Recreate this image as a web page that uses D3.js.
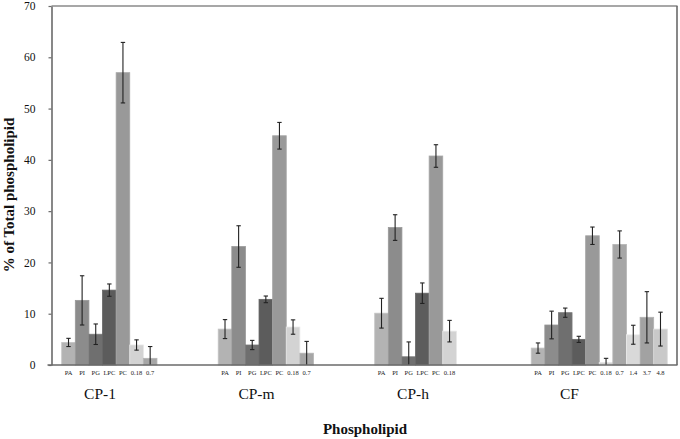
<!DOCTYPE html>
<html><head><meta charset="utf-8">
<script src="https://cdn.jsdelivr.net/npm/d3@7"></script>
<style>
html,body{margin:0;padding:0;background:#fff;}
text{font-family:"Liberation Serif","Times New Roman",serif;}
</style></head>
<body><svg id="c" width="680" height="439"></svg>
<script>
// ---- data ----
const groups = ["CP-1", "CP-m", "CP-h", "CF"];
const slots = [0,1,2,3,4,5,6,7,8,9];
const slotColors = ["#b3b3b3","#8c8c8c","#6f6f6f","#5c5c5c","#999999","#d3d3d3","#a6a6a6","#d9d9d9","#a2a2a2","#c9c9c9"];

const labelsCP1 = ["PA","PI","PG","LPC","PC","0.18","0.7"];
const valuesCP1 = [4.4, 12.6, 6.0, 14.6, 57.0, 3.9, 1.3];
const errorsCP1 = [0.8, 4.8, 2.0, 1.2, 5.9, 1.0, 2.3];

const labelsCPm = ["PA","PI","PG","LPC","PC","0.18","0.7"];
const valuesCPm = [7.0, 23.1, 3.9, 12.8, 44.7, 7.4, 2.3];
const errorsCPm = [1.85, 4.05, 0.9, 0.65, 2.6, 1.4, 2.3];

const labelsCPh = ["PA","PI","PG","LPC","PC","0.18"];
const valuesCPh = [10.1, 26.8, 1.6, 14.0, 40.75, 6.6];
const errorsCPh = [2.9, 2.5, 2.9, 2.0, 2.2, 2.1];

const labelsCF = ["PA","PI","PG","LPC","PC","0.18","0.7","1.4","3.7","4.8"];
const valuesCF = [3.3, 7.8, 10.2, 5.0, 25.2, 0.5, 23.5, 5.9, 9.3, 7.0];
const errorsCF = [1.0, 2.7, 0.9, 0.6, 1.7, 0.8, 2.65, 1.85, 5.0, 3.3];

const yTicks = [0,10,20,30,40,50,60,70];

const groupData = [
  {g:"CP-1", labels:labelsCP1, values:valuesCP1, errors:errorsCP1},
  {g:"CP-m", labels:labelsCPm, values:valuesCPm, errors:errorsCPm},
  {g:"CP-h", labels:labelsCPh, values:valuesCPh, errors:errorsCPh},
  {g:"CF",   labels:labelsCF,  values:valuesCF,  errors:errorsCF}
];

(function(){
// ---- layout ----
const svg = d3.select("#c");
const pL = 51.5, pR = 677.5, pT = 6, pB = 365;
const x0 = d3.scaleBand().domain(groups).range([pL, pR]).paddingInner(0).paddingOuter(0);
const x1 = d3.scaleBand().domain(slots).range([0, x0.bandwidth()]).paddingInner(0).paddingOuter(0.75);
const y = d3.scaleLinear().domain([0,70]).range([pB, pT]);

const bars = [];
groupData.forEach(gd => {
  gd.values.forEach((v,i) => bars.push({g:gd.g, i, v, e:gd.errors[i], label:gd.labels[i]}));
});

// bars
svg.append("g").selectAll("rect").data(bars).join("rect")
  .attr("x", d => x0(d.g) + x1(d.i))
  .attr("width", x1.bandwidth())
  .attr("y", d => y(d.v))
  .attr("height", d => y(0) - y(d.v))
  .attr("fill", d => slotColors[d.i])
  .attr("stroke", d => d3.color(slotColors[d.i]).brighter(0.25))
  .attr("stroke-width", 0.8);

// error bars
const eg = svg.append("g").attr("stroke","#222").attr("stroke-width",1.1);
bars.forEach(d => {
  const cx = x0(d.g) + x1(d.i) + x1.bandwidth()/2;
  const hi = d.v + d.e, lo = Math.max(0, d.v - d.e);
  eg.append("line").attr("x1",cx).attr("x2",cx).attr("y1",y(hi)).attr("y2",y(lo));
  eg.append("line").attr("x1",cx-2.2).attr("x2",cx+2.2).attr("y1",y(hi)).attr("y2",y(hi));
  if (d.v - d.e > 0)
    eg.append("line").attr("x1",cx-2.2).attr("x2",cx+2.2).attr("y1",y(lo)).attr("y2",y(lo));
});

// frame lines
svg.append("line").attr("x1",pL).attr("x2",pR).attr("y1",pT).attr("y2",pT)
  .attr("stroke","#8a8a8a").attr("stroke-width",1.6);
svg.append("line").attr("x1",pR-0.5).attr("x2",pR-0.5).attr("y1",pT).attr("y2",pB)
  .attr("stroke","#6a6a6a").attr("stroke-width",1.6);

// y axis
const yAxis = svg.append("g").attr("transform",`translate(${pL},0)`)
  .call(d3.axisLeft(y).tickValues(yTicks).tickSize(3).tickSizeOuter(0).tickPadding(13));
yAxis.select(".domain").attr("stroke","#6a6a6a").attr("stroke-width",1.6);
yAxis.selectAll(".tick line").attr("stroke","#6a6a6a").attr("stroke-width",1.2);
yAxis.selectAll(".tick text").attr("font-family","Liberation Serif").attr("font-size",11.5).attr("fill","#111");

// x baseline
svg.append("line").attr("x1",pL-4).attr("x2",pR).attr("y1",pB).attr("y2",pB)
  .attr("stroke","#6a6a6a").attr("stroke-width",1.6);

// slot labels
svg.append("g").selectAll("text").data(bars).join("text")
  .attr("x", d => x0(d.g) + x1(d.i) + x1.bandwidth()/2)
  .attr("y", 375)
  .attr("text-anchor","middle")
  .attr("font-size",6.5)
  .attr("fill","#222")
  .text(d => d.label);

// group labels
svg.append("g").selectAll("text").data(groups).join("text")
  .attr("x", d => x0(d) + x0.bandwidth()*0.31)
  .attr("y", 399)
  .attr("text-anchor","middle")
  .attr("font-size",15.5)
  .attr("fill","#111")
  .text(d => d);

// axis titles
svg.append("text").attr("x", 365).attr("y", 434).attr("text-anchor","middle")
  .attr("font-size",15).attr("font-weight","bold").attr("fill","#111").text("Phospholipid");
svg.append("text").attr("transform","translate(13.5,195) rotate(-90)").attr("text-anchor","middle")
  .attr("font-size",15).attr("font-weight","bold").attr("fill","#111").text("% of Total phospholipid");
})();
</script></body></html>
